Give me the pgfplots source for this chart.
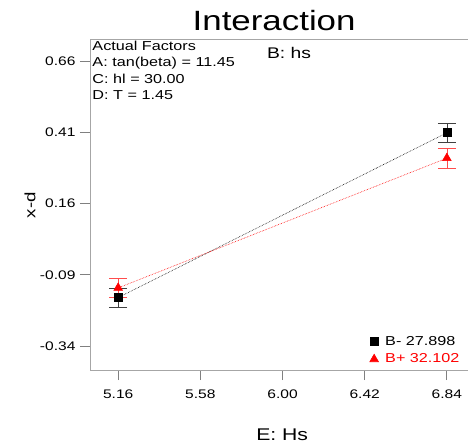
\documentclass[border=0pt]{standalone}
\usepackage{pgfplots}
\pgfplotsset{compat=1.18}
\usepackage{fontspec}
\setmainfont{Liberation Sans}[FakeStretch=1.25]
\begin{document}
\begin{tikzpicture}
\useasboundingbox (0,0) rectangle (468bp,445bp);
\begin{axis}[
    at={(90bp,75bp)}, anchor=south west,
    scale only axis, width=382bp, height=331bp,
    xmin=5.016, xmax=6.9685,
    ymin=-0.424, ymax=0.737,
    axis lines*=left,
    axis line style={draw=gray!70, line width=0.8pt},
    tick align=outside,
    major tick length=10bp,
    tick style={gray, line width=0.8pt},
    xtick={5.16,5.58,6.00,6.42,6.84},
    xticklabels={5.16,5.58,6.00,6.42,6.84},
    ytick={-0.34,-0.09,0.16,0.41,0.66},
    yticklabels={-0.34,-0.09,0.16,0.41,0.66},
    ticklabel style={font=\fontsize{12.5}{14}\selectfont},
    xticklabel style={yshift=-6bp},
    yticklabel style={xshift=-1bp},
    clip=false,
    legend style={at={(axis description cs:0.732,0.108)}, anchor=north west,
        draw=none, fill=none, inner sep=0pt, row sep=3pt,
        font=\fontsize{13}{15}\selectfont},
    legend cell align=left,
    legend image code/.code={\path[draw=none] (0cm,0cm) -- (0.42cm,0cm);
        \path[#1] plot coordinates {(0.1cm,0cm)};},
]
\draw[gray!70, line width=0.8pt] (rel axis cs:0,1) -- (rel axis cs:1,1);

\addplot[black, densely dotted, line width=0.6pt, mark=square*,
    mark options={solid, fill=black, mark size=4bp},
    error bars/.cd, y dir=both, y explicit,
    error bar style={solid, black!75, line width=0.7pt},
    error mark options={rotate=90, mark size=9bp, black!75, line width=0.7pt}]
coordinates {
    (5.16,-0.170) +- (0,0.034)
    (6.84,0.408) +- (0,0.034)
};
\addlegendentry{B- 27.898}

\addplot[red, densely dotted, line width=0.6pt, mark=triangle*,
    mark options={solid, fill=red, mark size=5bp},
    error bars/.cd, y dir=both, y explicit,
    error bar style={solid, red!70, line width=0.7pt},
    error mark options={rotate=90, mark size=9bp, red!70, line width=0.7pt}]
coordinates {
    (5.16,-0.136) +- (0,0.034)
    (6.84,0.319) +- (0,0.034)
};
\addlegendentry{\textcolor{red}{B+ 32.102}}

\node[font=\fontsize{28}{30}\selectfont] at (axis description cs:0.482,1.057) {Interaction};
\node[font=\fontsize{15.5}{17}\selectfont] at (axis description cs:0.521,0.958) {B: hs};
\node[font=\fontsize{17}{19}\selectfont] at (axis description cs:0.503,-0.196) {E: Hs};
\node[font=\fontsize{15}{17}\selectfont, rotate=90] at (axis description cs:-0.157,0.498) {x-d};
\node[anchor=north west, align=left, inner sep=0pt,
    font=\fontsize{13}{16.5}\selectfont] at (axis description cs:0.006,0.995)
    {Actual Factors\\A: tan(beta) = 11.45\\C: hl = 30.00\\D: T = 1.45};
\end{axis}
\end{tikzpicture}
\end{document}
